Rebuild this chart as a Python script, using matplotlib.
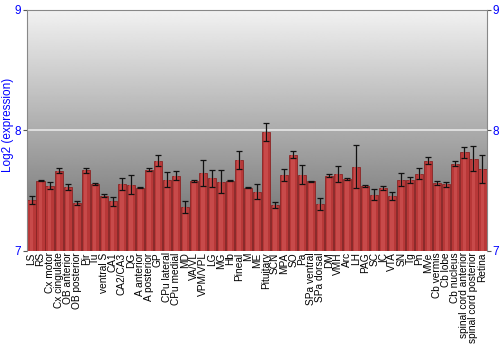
import numpy as np
import matplotlib
matplotlib.use("Agg")
import matplotlib.pyplot as plt

plt.rcParams['font.family'] = ['Liberation Sans', 'DejaVu Sans']

regions = ["LS", "RS", "Cx motor", "Cx cingulate", "OB anterior", "OB posterior", "Pir", "Tu",
           "ventral S", "CA1", "CA2/CA3", "DG", "A anterior", "A posterior", "GP", "CPu lateral",
           "CPu medial", "MD", "VA/VL", "VPM/VPL", "LG", "MG", "Hb", "Pineal", "M", "ME",
           "Pituitary", "SCN", "MPA", "SO", "Pa", "SPa ventral", "SPa dorsal", "DM", "VMH", "Arc",
           "LH", "PAG", "SC", "IC", "VTA", "SN", "Tg", "Pn", "MVe", "Cb vermis", "Cb lobe",
           "Cb nucleus", "spinal cord anterior", "spinal cord posterior", "Retina"]

expression = [7.423, 7.581, 7.542, 7.664, 7.534, 7.398, 7.670, 7.556,
              7.459, 7.412, 7.553, 7.550, 7.526, 7.675, 7.747, 7.589,
              7.625, 7.363, 7.581, 7.647, 7.603, 7.575, 7.581, 7.755, 7.526, 7.492,
              7.988, 7.384, 7.631, 7.797, 7.631, 7.578, 7.387, 7.625, 7.639, 7.598,
              7.700, 7.539, 7.465, 7.520, 7.456, 7.589, 7.589, 7.642, 7.747, 7.562, 7.553,
              7.725, 7.819, 7.766, 7.680]

error = [0.030, 0.004, 0.027, 0.020, 0.025, 0.015, 0.020, 0.005,
         0.010, 0.036, 0.048, 0.077, 0.005, 0.010, 0.045, 0.062,
         0.039, 0.051, 0.010, 0.105, 0.069, 0.097, 0.005, 0.076, 0.005, 0.061,
         0.073, 0.025, 0.051, 0.028, 0.079, 0.005, 0.048, 0.010, 0.065, 0.010,
         0.177, 0.005, 0.046, 0.017, 0.036, 0.054, 0.025, 0.046, 0.029, 0.019, 0.019,
         0.021, 0.044, 0.105, 0.118]

y_ticks = [7, 8, 9]

fig = plt.figure(figsize=(5, 3.5), dpi=100)
ax = fig.add_axes([0.054, 0.283, 0.92, 0.689])

n = len(regions)
x = np.arange(n)
ax.set_xlim(-0.5, n - 0.5)
ax.set_ylim(7, 9)

# background gradient
grad = np.linspace(0.40, 0.95, 256).reshape(-1, 1)
ax.imshow(grad, cmap="gray", vmin=0, vmax=1, aspect="auto",
          extent=[-0.5, n - 0.5, 7, 9], origin="lower", zorder=0)

ax.axhline(8, color="#e8e8e8", lw=1.2, zorder=1)

ax.bar(x, np.array(expression) - 7, bottom=7, width=0.9, color="#b83838",
       edgecolor="#8a2424", linewidth=0.6, zorder=2)
ax.bar(x, np.array(expression) - 7, bottom=7, width=0.4, color="#c84a4a",
       linewidth=0, zorder=2)
ax.errorbar(x, expression, yerr=error, fmt="none", ecolor="#111111",
            elinewidth=0.9, capsize=2.2, capthick=0.9, zorder=3)

ax.set_xticks(x)
ax.set_xticklabels(regions, rotation=90, fontsize=7.3)
ax.tick_params(axis="x", length=0, pad=1)

ax.set_yticks(y_ticks)
ax.set_yticklabels([str(v) for v in y_ticks])
ax.tick_params(axis="y", labelsize=8.5, length=3, pad=1, left=True, right=True,
               labelleft=True, labelright=True, labelcolor="#0000ff", color="#555555")
ax.set_ylabel("Log2 (expression)", color="#0000ff", fontsize=8.5)
ax.yaxis.set_label_coords(-0.029, 0.523)

for side in ["top", "left", "right"]:
    ax.spines[side].set_color("#888888")
ax.spines["bottom"].set_visible(False)

fig.savefig("out.png", dpi=100)
